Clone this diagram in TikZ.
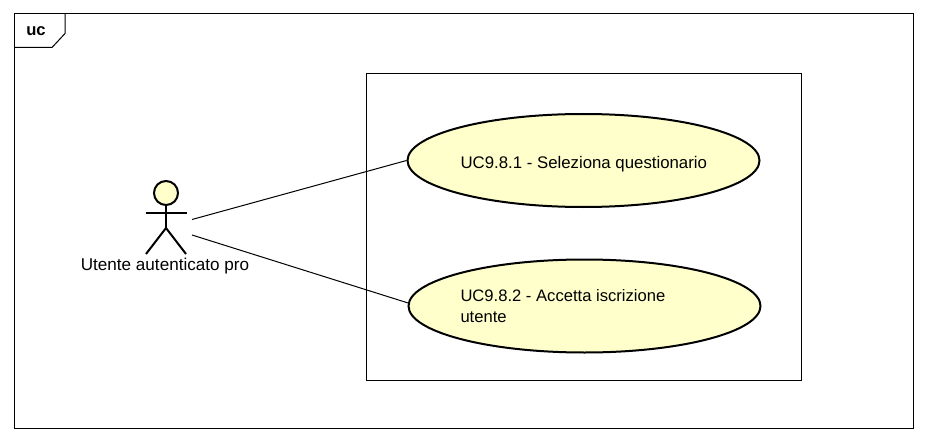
\documentclass[tikz,border=0pt]{standalone}
\usepackage{fontspec}
\setmainfont{Liberation Sans}
\usetikzlibrary{calc,shapes.geometric}

\definecolor{ucfill}{HTML}{FFFFCC}
\tikzset{
 usecase/.style={ellipse,draw,line width=2pt,fill=ucfill,inner sep=0pt,
   minimum width=352pt,minimum height=93pt,text width=#1,align=flush left},
 frameline/.style={line width=1pt},
 actorline/.style={line width=2pt},
 assoc/.style={line width=1pt},
 plain/.style={inner sep=0pt}
}

\begin{document}
\begin{tikzpicture}[x=1pt,y=-1pt,every node/.append style={font=\fontsize{16.6}{21}\selectfont}]

\useasboundingbox (0,0) rectangle (926,441);

% frame
\draw[frameline] (14,13.5) rectangle (913,428.5);
\draw[frameline] (14,47.5) -- (52,47.5) -- (65,33.5) -- (65,13.5);
\node[plain] (title) at (36,31) {\textbf{uc}};

% system
\draw[frameline] (366,73.5) rectangle (801,380);

% use cases
\node[usecase=246pt,font=\fontsize{16.8}{21}\selectfont] (uc1) at (583.5,160.5)
  {\raisebox{-4pt}[\height][\depth]{UC9.8.1 - Seleziona questionario}};
\node[usecase=248pt] (uc2) at (584.5,306) {UC9.8.2 - Accetta iscrizione\\utente};

% actor
\begin{scope}[shift={(166,193)}]
 \draw[actorline,fill=ucfill] (0,0) circle (12);
 \draw[actorline] (0,12) -- (0,35);
 \draw[actorline] (-20.5,20) -- (20.5,20);
 \draw[actorline] (-20,61) -- (0,35) -- (20,61);
 \node[plain,font=\fontsize{17.1}{21}\selectfont] (actor) at (-1,73) {Utente autenticato pro};
 \coordinate (a1) at (26,26.5);
 \coordinate (a2) at (26,42);
\end{scope}

% associations
\draw[assoc] (a1) -- (uc1.west);
\draw[assoc] (a2) -- (uc2.179);

\end{tikzpicture}
\end{document}
